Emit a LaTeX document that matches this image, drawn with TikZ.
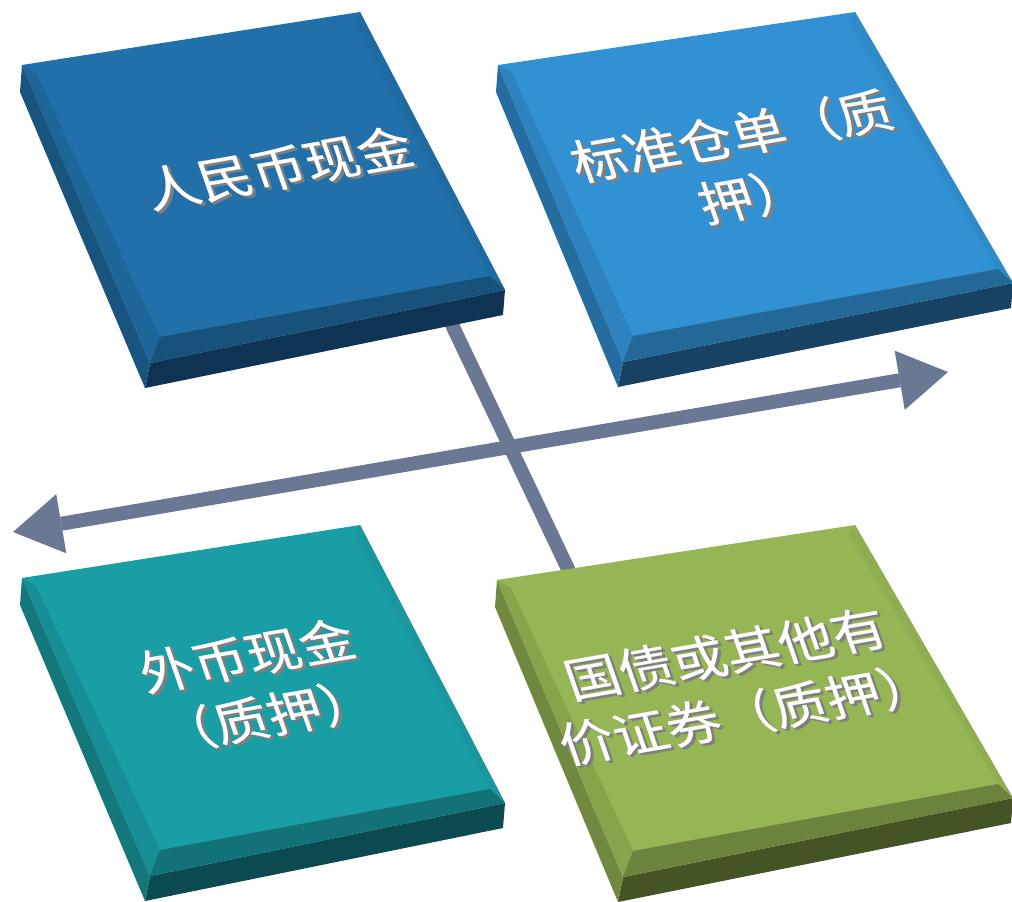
\documentclass[tikz,border=0pt]{standalone}
\usepackage{fontspec}
\newfontfamily\cjk[FakeBold=0.3]{Noto Sans CJK SC}
\usepackage{tikz}
\usetikzlibrary{arrows.meta,calc}
\definecolor{Aoben}{RGB}{33,112,169}
\definecolor{Avorne}{RGB}{15,51,82}
\definecolor{Boben}{RGB}{50,145,210}
\definecolor{Bvorne}{RGB}{24,66,100}
\definecolor{Coben}{RGB}{26,158,166}
\definecolor{Cvorne}{RGB}{10,74,80}
\definecolor{Doben}{RGB}{150,182,85}
\definecolor{Dvorne}{RGB}{68,84,36}
\definecolor{pfeilgrau}{RGB}{106,120,148}

\begin{document}
\begin{tikzpicture}[x=1pt,y=1pt,
  balken/.style={line width=14pt,pfeilgrau},
  schrift/.style={font=\cjk\fontsize{54}{70}\selectfont,align=center,inner sep=0pt,text=white},
  schatten/.style={schrift,text=black!50}]
\fill[white] (0,0) rectangle (1012,-902);
\useasboundingbox (0,0) rectangle (1012,-902);
\pgfmathsetmacro{\dicke}{25}
% Pfeile liegen hinter den Kacheln
\coordinate (oben) at (445,-310);
\coordinate (unten) at (578,-590);
\coordinate (links) at (13,-532);
\coordinate (rechts) at (948,-372);
\draw[balken] (oben) -- (unten);
\draw[balken,{Triangle[length=49pt,width=60pt,line width=0pt]}-{Triangle[length=49pt,width=60pt,line width=0pt]}] (links) -- (rechts);
% Kacheln: Ecke oben links, oben rechts, rechts, unten links (Pixel)
\foreach \kachel/\ax/\ay/\bx/\by/\cx/\cy/\dx/\dy in {A/22/65/360/12/505/290/150/363, B/498/65/855/12/1013/283/623/362, C/22/578/360/525/505/803/150/876, D/497/580/855/525/1013/798/623/877}{
  \coordinate (\kachel a) at (\ax,-\ay);
  \coordinate (\kachel b) at (\bx,-\by);
  \coordinate (\kachel c) at (\cx,-\cy);
  \coordinate (\kachel d) at (\dx,-\dy);
  \fill[\kachel vorne] (\kachel d) -- (\kachel c) -- ($(\kachel c)+(-2,-\dicke)$) -- ($(\kachel d)+(-5,-\dicke)$) -- cycle;
  \fill[\kachel oben!75!black] (\kachel a) -- (\kachel d) -- ($(\kachel d)+(-5,-\dicke)$) -- ($(\kachel a)+(-2,-\dicke-2)$) -- cycle;
  \fill[\kachel oben] (\kachel a) -- (\kachel b) -- (\kachel c) -- (\kachel d) -- cycle;
  %Fasen
  \coordinate (\kachel ai) at ($(\kachel a)+(14,-8)$);
  \coordinate (\kachel bi) at ($(\kachel b)+(-6,-10)$);
  \coordinate (\kachel ci) at ($(\kachel c)+(-15,14)$);
  \coordinate (\kachel di) at ($(\kachel d)+(10,26)$);
  \fill[\kachel oben!90!black] (\kachel a) -- (\kachel ai) -- (\kachel di) -- (\kachel d) -- cycle;
  \fill[\kachel oben!95!black] (\kachel b) -- (\kachel bi) -- (\kachel ci) -- (\kachel c) -- cycle;
  \fill[\kachel oben!72!black] (\kachel d) -- (\kachel di) -- (\kachel ci) -- (\kachel c) -- cycle;
}
% Beschriftung in der Ebene der Kacheln
\foreach \kachel/\x/\y/\inhalt in {A/278/168/{人民币现金}, B/742/166/{标准仓单（质\\押）}, C/257/686/{外币现金\\（质押）}, D/736/684/{国债或其他有\\价证券（质押）}}{
  \begin{scope}[shift={(\x,-\y)},cm={0.985,0.172,-0.3,0.86,(0,0)},transform shape]
    \foreach \s in {2,1}
      \node[schatten] (\kachel s\s) at (1.2*\s,-1.5*\s) {\inhalt};
    \node[schrift] (\kachel t) at (0,0) {\inhalt};
  \end{scope}
}
\end{tikzpicture}
\end{document}
